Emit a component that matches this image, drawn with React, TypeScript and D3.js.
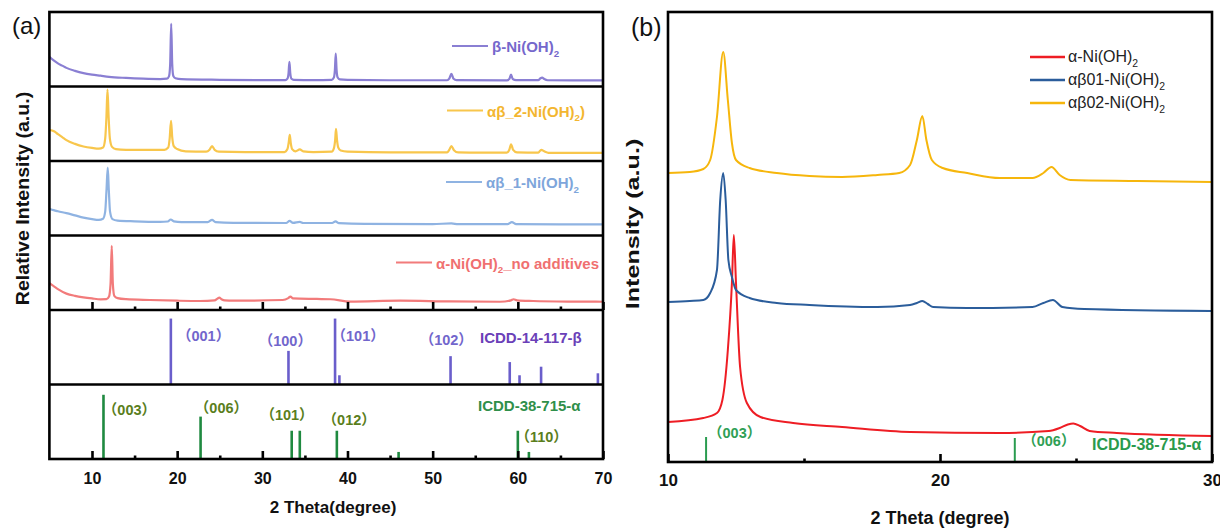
import React, { useEffect, useRef } from 'react';
import * as d3 from 'd3';

type Pt = [number, number];
type Seg = [string, boolean]; // [text, isSubscript]

// ---------- panel (a) patterns: [2theta, relative intensity within its strip] ----------
const betaPattern: Pt[] = [
  [5, 40], [5.5, 35], [6, 31], [6.5, 28], [7, 25], [8, 21], [9, 18], [10, 16], [11, 14.5], [12, 13],
  [14, 11.5], [16, 10.5], [18, 10], [18.8, 10.5], [19.05, 14], [19.18, 30], [19.3, 84], [19.42, 30],
  [19.55, 14], [19.8, 11], [20.5, 9.8], [25, 9], [30, 8.6], [32.7, 8.6], [32.95, 10.5], [33.08, 18],
  [33.18, 33], [33.28, 18], [33.42, 10.5], [33.7, 9], [36, 8.6], [38.15, 9], [38.4, 12], [38.52, 22],
  [38.62, 44], [38.72, 22], [38.85, 12], [39.1, 9.5], [40, 8.8], [45, 8.4], [51.7, 8.4], [51.95, 10.5],
  [52.2, 17], [52.45, 10.5], [52.8, 8.6], [58.7, 8.3], [59.0, 10], [59.2, 16], [59.4, 10], [59.8, 8.6],
  [62.4, 8.5], [62.65, 11], [62.85, 12], [63.1, 10], [63.5, 8.4], [70, 8.2],
];
const ab2Pattern: Pt[] = [
  [5, 42], [5.3, 41], [5.6, 39.5], [6, 36], [6.5, 32], [7, 28], [8, 23], [9, 19.5], [10, 17.5],
  [10.8, 16.5], [11.3, 18], [11.55, 30], [11.7, 60], [11.82, 96], [11.95, 60], [12.1, 30], [12.35, 19],
  [12.8, 16], [14, 15], [16, 14.8], [18.5, 15], [18.95, 18], [19.12, 30], [19.28, 54], [19.42, 32],
  [19.6, 20], [20, 16], [21, 13], [23.4, 12.5], [23.8, 15], [24.1, 20], [24.4, 15], [24.9, 12.5],
  [28, 12], [32.6, 12], [32.95, 16], [33.1, 25], [33.22, 35], [33.34, 24], [33.5, 16], [33.9, 13],
  [34.4, 15.5], [34.8, 13], [36, 12], [38.15, 12.5], [38.4, 17], [38.55, 28], [38.65, 43], [38.77, 28],
  [38.92, 18], [39.2, 14], [40, 12.5], [45, 11.5], [51.7, 11.5], [51.95, 15], [52.2, 20], [52.5, 14.5],
  [53, 11.5], [58.7, 11.2], [59.0, 15], [59.2, 22.5], [59.45, 15], [59.9, 11.5], [62.4, 11.2],
  [62.75, 15], [63.1, 13], [63.6, 11], [70, 10.8],
];
const ab1Pattern: Pt[] = [
  [5, 36], [5.5, 34], [6, 32.5], [7, 30], [8, 27], [9, 24], [10, 22], [10.8, 21], [11.3, 22.5],
  [11.55, 32], [11.7, 60], [11.85, 91], [11.98, 60], [12.12, 32], [12.4, 22], [13, 20], [15, 19],
  [18, 18.3], [18.9, 18.8], [19.25, 21.5], [19.6, 19], [20.5, 18], [23.6, 18], [24.1, 21], [24.5, 18],
  [26.6, 17], [32.8, 16.8], [33.2, 19.5], [33.6, 17], [34.4, 18.3], [34.8, 16.8], [38.2, 16.8],
  [38.6, 19], [39, 16.5], [42, 15.5], [50, 15.3], [52.2, 16.2], [53, 15.2], [58.8, 15.2], [59.3, 18],
  [59.8, 15.2], [65, 15], [70, 14.8],
];
const alphaPattern: Pt[] = [
  [5, 36], [5.5, 32], [6, 28], [7, 22], [8, 19], [9, 17], [10, 15.5], [11, 14.3], [11.7, 14.5],
  [12.0, 18], [12.18, 35], [12.32, 86], [12.45, 35], [12.62, 19], [13, 16], [14, 14.5], [16.8, 13.4],
  [20, 12.5], [22.7, 12.1], [24.4, 12.8], [24.75, 15.5], [24.95, 16.5], [25.2, 14.5], [25.6, 12.8],
  [26.6, 12.5], [32.4, 13.4], [33.05, 16], [33.3, 18], [33.6, 15.5], [36.4, 14.8], [38, 14.4],
  [40.3, 11.2], [46.2, 12.5], [52, 11.5], [57.9, 11.1], [59.2, 13], [59.5, 14.4], [59.9, 13],
  [61.8, 12.1], [66, 11.3], [70, 11.1],
];

// reference cards
const betaRefPos = [19.26, 33.07, 38.54, 39.05, 52.1, 59.05, 60.2, 62.73, 69.4];
const betaRefInt = [100, 51, 100, 14, 43, 34, 14, 27, 17];
const alphaRefPos = [11.35, 22.75, 33.45, 34.4, 38.75, 46.0, 60.0, 61.3];
const alphaRefInt = [100, 66, 44, 44, 44, 11, 44, 11];

// ---------- panel (b) patterns: [2theta, intensity a.u.] ----------
const ab02Pattern: Pt[] = [
  [10, 578], [10.8, 580], [11.3, 586], [11.55, 604], [11.8, 690], [12.03, 820], [12.2, 724],
  [12.35, 638], [12.5, 604], [13.0, 588], [14.0, 578], [15.2, 572], [16.4, 570], [17.7, 574],
  [18.5, 578], [18.9, 594], [19.15, 644], [19.35, 692], [19.5, 644], [19.7, 604], [20.1, 588],
  [21.0, 578], [22.2, 568], [23.4, 568], [23.8, 578], [24.1, 590], [24.4, 574], [24.8, 564],
  [27.1, 562], [30, 560],
];
const ab01Pattern: Pt[] = [
  [10, 320], [10.8, 322], [11.3, 324], [11.55, 338], [11.8, 384], [11.92, 524], [12.03, 578],
  [12.12, 524], [12.22, 404], [12.35, 370], [12.5, 344], [13.0, 328], [14.0, 318], [15.2, 314],
  [17.7, 310], [18.9, 314], [19.15, 318], [19.35, 322], [19.55, 316], [19.75, 310], [21.0, 308],
  [23.4, 310], [23.8, 318], [24.15, 324], [24.5, 310], [25.3, 306], [30, 302],
];
const a00Pattern: Pt[] = [
  [10, 80], [11.3, 88], [11.8, 98], [12.0, 124], [12.2, 224], [12.35, 358], [12.42, 454], [12.5, 358],
  [12.65, 190], [12.9, 118], [13.4, 90], [14.6, 78], [16.4, 70], [18.9, 60], [22.2, 58], [24.0, 62],
  [24.4, 68], [24.7, 75], [24.9, 77], [25.15, 72], [25.5, 62], [26.5, 58], [30, 52],
];
const bRefPos = [11.4, 22.75];
const bRefInt = [50, 48];

const ticksA = [10, 20, 30, 40, 50, 60, 70];
const minorA = [15, 25, 35, 45, 55, 65];
const ticksB = [10, 20, 30];
const minorB = [15, 25];

const FONT = "'Liberation Sans', Arial, sans-serif";
const HKL_FONT = "'Liberation Sans', 'Noto Sans CJK SC', sans-serif";

const App: React.FC = () => {
  const svgRef = useRef<SVGSVGElement | null>(null);

  useEffect(() => {
    if (!svgRef.current) return;
    const svg = d3.select(svgRef.current);
    svg.selectAll('*').remove();

    // rich text with subscripts
    const label = (
      g: d3.Selection<any, unknown, null, undefined>,
      x: number,
      y: number,
      segs: Seg[],
      size: number,
      color: string,
      weight = 'bold',
      anchor = 'start',
    ) => {
      const t = g
        .append('text')
        .attr('x', x)
        .attr('y', y)
        .attr('font-family', FONT)
        .attr('font-size', size)
        .attr('font-weight', weight)
        .attr('fill', color)
        .attr('text-anchor', anchor);
      let shifted = false;
      segs.forEach(([s, sub]) => {
        const span = t.append('tspan').text(s);
        if (sub && !shifted) {
          span.attr('dy', size * 0.3).attr('font-size', size * 0.65);
          shifted = true;
        } else if (!sub && shifted) {
          span.attr('dy', -size * 0.3);
          shifted = false;
        }
      });
      return t;
    };

    const hkl = (g: any, text: string, x: number, y: number, color: string, size = 14) =>
      g
        .append('text')
        .attr('x', x)
        .attr('y', y)
        .attr('text-anchor', 'middle')
        .attr('font-family', HKL_FONT)
        .attr('font-size', size)
        .attr('font-weight', 'bold')
        .attr('fill', color)
        .text(text);

    // inward ticks; major and minor need their own groups
    const drawAxis = (
      g: any,
      scale: d3.ScaleLinear<number, number>,
      y: number,
      major: number[],
      minor: number[],
      withLabels: boolean,
      fontSize: number,
      pad: number,
    ) => {
      const axMajor = g.append('g').attr('transform', `translate(0,${y})`);
      axMajor.call(
        d3
          .axisBottom(scale)
          .tickValues(major)
          .tickSizeInner(-8)
          .tickSizeOuter(0)
          .tickPadding(pad)
          .tickFormat(withLabels ? d3.format('d') : () => ''),
      );
      const axMinor = g.append('g').attr('transform', `translate(0,${y})`);
      axMinor.call(
        d3.axisBottom(scale).tickValues(minor).tickSizeInner(-3.5).tickSizeOuter(0).tickFormat(() => ''),
      );
      [axMajor, axMinor].forEach(ax => {
        ax.selectAll('.domain').remove();
        ax.selectAll('line').attr('stroke', '#000').attr('stroke-width', 2.6);
        ax.selectAll('text')
          .attr('font-family', FONT)
          .attr('font-size', fontSize)
          .attr('font-weight', 'bold')
          .attr('fill', '#111');
      });
    };

    // ===================== panel (a) =====================
    const ga = svg.append('g');
    const xA = d3.scaleLinear().domain([5, 70]).range([49.4, 603]);
    const stripTop = 12;
    const stripH = 74.5;
    const stripY = (i: number, max: number) =>
      d3.scaleLinear().domain([0, max]).range([stripTop + (i + 1) * stripH, stripTop + i * stripH]);

    const strips = [
      { data: betaPattern, color: '#8a7fd3', text: '#7568cc', lx: 452, name: [['β-Ni(OH)', false], ['2', true]] as Seg[] },
      { data: ab2Pattern, color: '#f8c64c', text: '#f3b630', lx: 447, name: [['αβ_2-Ni(OH)', false], ['2', true], [')', false]] as Seg[] },
      { data: ab1Pattern, color: '#8fb3e2', text: '#7ea6db', lx: 446, name: [['αβ_1-Ni(OH)', false], ['2', true]] as Seg[] },
      { data: alphaPattern, color: '#f27b7b', text: '#f07070', lx: 396, name: [['α-Ni(OH)', false], ['2', true], ['_no additives', false]] as Seg[] },
    ];
    const legendDy = [34, 24, 21, 27];

    strips.forEach((s, i) => {
      const y = stripY(i, 100);
      const line = d3
        .line<Pt>()
        .x(d => xA(d[0]))
        .y(d => y(d[1]))
        .curve(d3.curveMonotoneX);
      ga.append('path')
        .attr('d', line(s.data))
        .attr('fill', 'none')
        .attr('stroke', s.color)
        .attr('stroke-width', 2.2)
        .attr('stroke-linejoin', 'round');
      const ly = stripTop + i * stripH + legendDy[i];
      ga.append('line')
        .attr('x1', s.lx)
        .attr('x2', s.lx + 36)
        .attr('y1', ly)
        .attr('y2', ly)
        .attr('stroke', s.color)
        .attr('stroke-width', 2);
      label(ga, s.lx + 40, ly + 6, s.name, 15, s.text);
    });

    // reference sticks
    const yBeta = stripY(4, 113);
    betaRefPos.forEach((p, i) => {
      ga.append('line')
        .attr('x1', xA(p))
        .attr('x2', xA(p))
        .attr('y1', yBeta(0))
        .attr('y2', yBeta(betaRefInt[i]))
        .attr('stroke', '#6a5ecb')
        .attr('stroke-width', 2.6);
    });
    const yAlpha = stripY(5, 116);
    alphaRefPos.forEach((p, i) => {
      ga.append('line')
        .attr('x1', xA(p))
        .attr('x2', xA(p))
        .attr('y1', yAlpha(0))
        .attr('y2', yAlpha(alphaRefInt[i]))
        .attr('stroke', '#1f8a40')
        .attr('stroke-width', 2.6);
    });

    const betaHkl: [string, number, number][] = [
      ['（001）', 23.1, 341], ['（100）', 32.7, 346], ['（101）', 41.25, 341], ['（102）', 51.6, 345],
    ];
    betaHkl.forEach(([t, p, yy]) => hkl(ga, t, xA(p), yy, '#7266cc', 14.5));
    label(ga, 480, 343, [['ICDD-14-117-β', false]], 15, '#6a40b8');

    const alphaHkl: [string, number, number][] = [
      ['（003）', 14.4, 415], ['（006）', 25.2, 413], ['（101）', 32.9, 420], ['（012）', 40.2, 425], ['（110）', 62.8, 442],
    ];
    alphaHkl.forEach(([t, p, yy]) => hkl(ga, t, xA(p), yy, '#5a7e1c', 14.5));
    label(ga, 478, 411, [['ICDD-38-715-α', false]], 15, '#2f8f4a');

    // frame and strip separators
    ga.append('rect')
      .attr('x', xA(5))
      .attr('y', stripTop)
      .attr('width', xA(70) - xA(5))
      .attr('height', stripH * 6)
      .attr('fill', 'none')
      .attr('stroke', '#000')
      .attr('stroke-width', 2.6);
    d3.range(1, 6).forEach(k => {
      ga.append('line')
        .attr('x1', xA(5))
        .attr('x2', xA(70))
        .attr('y1', stripTop + k * stripH)
        .attr('y2', stripTop + k * stripH)
        .attr('stroke', '#000')
        .attr('stroke-width', 2.6);
    });

    drawAxis(ga, xA, stripTop + 4 * stripH, ticksA, minorA, false, 16, 0);
    drawAxis(ga, xA, stripTop + 6 * stripH, ticksA, minorA, true, 16, 14);

    ga.append('text')
      .attr('x', 333)
      .attr('y', 513)
      .attr('text-anchor', 'middle')
      .attr('font-family', FONT)
      .attr('font-size', 17)
      .attr('font-weight', 'bold')
      .attr('fill', '#111')
      .text('2 Theta(degree)');
    ga.append('text')
      .attr('transform', 'translate(29,198.5) rotate(-90) scale(1.09,1)')
      .attr('text-anchor', 'middle')
      .attr('font-family', FONT)
      .attr('font-size', 18)
      .attr('font-weight', 'bold')
      .attr('fill', '#111')
      .text('Relative Intensity (a.u.)');
    ga.append('text')
      .attr('x', 12)
      .attr('y', 34)
      .attr('font-family', FONT)
      .attr('font-size', 24)
      .attr('fill', '#111')
      .text('(a)');

    // ===================== panel (b) =====================
    const gb = svg.append('g');
    const xB = d3.scaleLinear().domain([10, 30]).range([668, 1212]);
    const yB = d3.scaleLinear().domain([0, 900]).range([462, 12]);
    const lineB = d3
      .line<Pt>()
      .x(d => xB(d[0]))
      .y(d => yB(d[1]))
      .curve(d3.curveMonotoneX);

    const seriesB = [
      { data: a00Pattern, color: '#ee1d24', name: [['α-Ni(OH)', false], ['2', true]] as Seg[] },
      { data: ab01Pattern, color: '#2b5d9b', name: [['αβ01-Ni(OH)', false], ['2', true]] as Seg[] },
      { data: ab02Pattern, color: '#f6b60c', name: [['αβ02-Ni(OH)', false], ['2', true]] as Seg[] },
    ];
    seriesB.forEach((s, i) => {
      gb.append('path')
        .attr('d', lineB(s.data))
        .attr('fill', 'none')
        .attr('stroke', s.color)
        .attr('stroke-width', 2)
        .attr('stroke-linejoin', 'round');
      const ly = 57 + i * 23;
      gb.append('line')
        .attr('x1', 1030)
        .attr('x2', 1065)
        .attr('y1', ly)
        .attr('y2', ly)
        .attr('stroke', s.color)
        .attr('stroke-width', 2.4);
      label(gb, 1068, ly + 5, s.name, 16, '#222', 'normal');
    });

    bRefPos.forEach((p, i) => {
      gb.append('line')
        .attr('x1', xB(p))
        .attr('x2', xB(p))
        .attr('y1', yB(0))
        .attr('y2', yB(bRefInt[i]))
        .attr('stroke', '#2a9c50')
        .attr('stroke-width', 2);
    });
    hkl(gb, '（003）', xB(12.45), 438, '#2f9f55', 14.5);
    hkl(gb, '（006）', xB(24.0), 446, '#2f9f55', 14.5);
    label(gb, 1092, 450, [['ICDD-38-715-α', false]], 16, '#2a9a4c');

    gb.append('rect')
      .attr('x', 668)
      .attr('y', 12)
      .attr('width', 544)
      .attr('height', 450)
      .attr('fill', 'none')
      .attr('stroke', '#000')
      .attr('stroke-width', 2.6);
    drawAxis(gb, xB, 462, ticksB, minorB, true, 17, 12);

    gb.append('text')
      .attr('x', 940)
      .attr('y', 524)
      .attr('text-anchor', 'middle')
      .attr('font-family', FONT)
      .attr('font-size', 18)
      .attr('font-weight', 'bold')
      .attr('fill', '#111')
      .text('2 Theta (degree)');
    gb.append('text')
      .attr('transform', 'translate(639,224) rotate(-90) scale(1.4,1)')
      .attr('text-anchor', 'middle')
      .attr('font-family', FONT)
      .attr('font-size', 18)
      .attr('font-weight', 'bold')
      .attr('fill', '#111')
      .text('Intensity (a.u.)');
    gb.append('text')
      .attr('x', 631)
      .attr('y', 36)
      .attr('font-family', FONT)
      .attr('font-size', 25)
      .attr('fill', '#111')
      .text('(b)');
  }, []);

  return (
    <div style={{ position: 'fixed', left: 0, top: 0, width: 1220, height: 529, background: '#fff' }}>
      <svg ref={svgRef} width={1220} height={529} style={{ display: 'block' }} />
    </div>
  );
};

export default App;
